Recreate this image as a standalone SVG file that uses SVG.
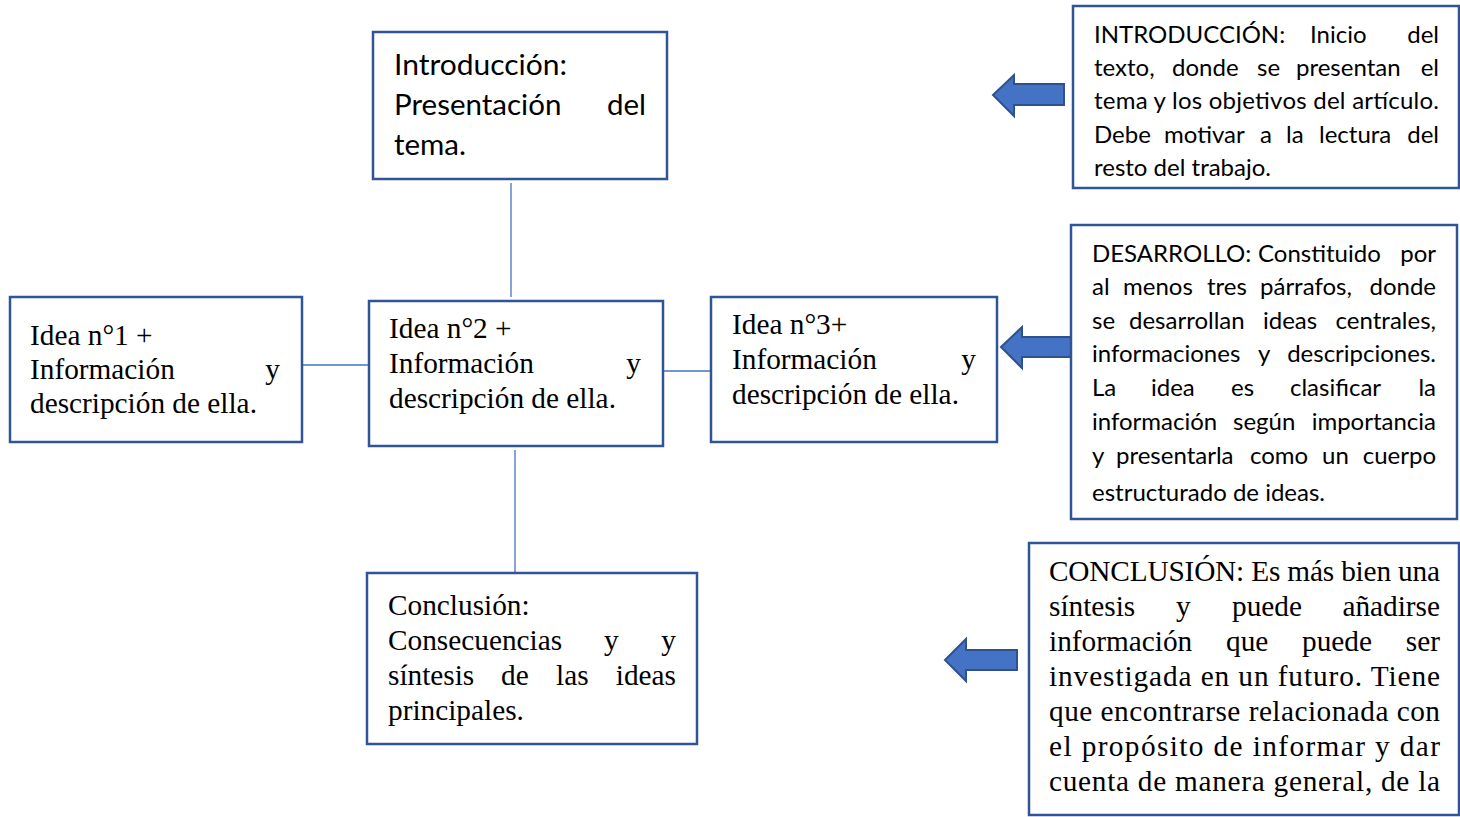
<svg xmlns="http://www.w3.org/2000/svg" width="1460" height="817" viewBox="0 0 1460 817">
<style>
.box{fill:#ffffff;stroke:#2F5597;stroke-width:2.5}
.conn{stroke:#4472C4;stroke-width:1.3;fill:none}
.arrow{fill:#4472C4;stroke:#2F528F;stroke-width:2;stroke-linejoin:miter}
.cal{font-family:Lato,"Open Sans","DejaVu Sans",sans-serif;fill:#000000}
.c23{font-size:24px}
.c29{font-size:29.5px}
.tnr{font-family:"Liberation Serif","Times New Roman",serif;font-size:29.3px;fill:#000000}
.end{text-anchor:end}
</style>
<rect width="1460" height="817" fill="#ffffff"/>

<g id="connectors">
<line class="conn" x1="511" y1="183" x2="511" y2="297"/>
<line class="conn" x1="302" y1="365" x2="369" y2="365"/>
<line class="conn" x1="663" y1="371" x2="711" y2="371"/>
<line class="conn" x1="515" y1="450" x2="515" y2="573"/>
<polygon class="arrow" points="993,95 1014,75 1014,84 1064,84 1064,105 1014,105 1014,116"/>
<polygon class="arrow" points="1001,347 1022,327 1022,337 1072,337 1072,357 1022,357 1022,368"/>
<polygon class="arrow" points="945,660 966,639 966,650 1017,650 1017,670 966,670 966,681"/>
</g>

<g id="intro">
<rect class="box" x="373" y="32" width="294" height="147"/>
<text class="cal c29" x="394" y="75" textLength="173" lengthAdjust="spacingAndGlyphs">Introducción:</text>
<text class="cal c29" x="394" y="115">Presentación</text>
<text class="cal c29 end" x="646" y="115">del</text>
<text class="cal c29" x="394" y="155">tema.</text>
</g>

<g id="idea1">
<rect class="box" x="10" y="297" width="292" height="145"/>
<text class="tnr" x="30" y="345">Idea n°1 +</text>
<text class="tnr" x="30" y="379">Información</text>
<text class="tnr end" x="280" y="379">y</text>
<text class="tnr" x="30" y="413">descripción de ella.</text>
</g>

<g id="idea2">
<rect class="box" x="369" y="301" width="294" height="145"/>
<text class="tnr" x="389" y="338">Idea n°2 +</text>
<text class="tnr" x="389" y="373">Información</text>
<text class="tnr end" x="641" y="373">y</text>
<text class="tnr" x="389" y="408">descripción de ella.</text>
</g>

<g id="idea3">
<rect class="box" x="711" y="297" width="286" height="145"/>
<text class="tnr" x="732" y="334">Idea n°3+</text>
<text class="tnr" x="732" y="369">Información</text>
<text class="tnr end" x="976" y="369">y</text>
<text class="tnr" x="732" y="404">descripción de ella.</text>
</g>

<g id="conclusion">
<rect class="box" x="367" y="573" width="330" height="171"/>
<text class="tnr" x="388" y="615">Conclusión:</text>
<text class="tnr" x="388" y="650">Consecuencias</text>
<text class="tnr" x="604" y="650">y</text>
<text class="tnr end" x="676" y="650">y</text>
<text class="tnr" x="388" y="685">síntesis</text>
<text class="tnr" x="501" y="685">de</text>
<text class="tnr" x="556" y="685">las</text>
<text class="tnr end" x="676" y="685">ideas</text>
<text class="tnr" x="388" y="720">principales.</text>
</g>

<g id="note-introduccion">
<rect class="box" x="1073" y="6" width="386" height="182"/>
<text class="cal c23" y="43"><tspan x="1094">INTRODUCCIÓN:</tspan><tspan x="1310">Inicio</tspan></text>
<text class="cal c23 end" x="1439" y="43">del</text>
<text class="cal c23" y="76"><tspan x="1094">texto,</tspan><tspan x="1172">donde</tspan><tspan x="1257">se</tspan><tspan x="1296">presentan</tspan></text>
<text class="cal c23 end" x="1439" y="76">el</text>
<text class="cal c23" x="1094" y="109" textLength="345" lengthAdjust="spacing">tema y los objetivos del artículo.</text>
<text class="cal c23" y="143"><tspan x="1094">Debe</tspan><tspan x="1164">motivar</tspan><tspan x="1260">a</tspan><tspan x="1286">la</tspan><tspan x="1319">lectura</tspan></text>
<text class="cal c23 end" x="1439" y="143">del</text>
<text class="cal c23" x="1094" y="176">resto del trabajo.</text>
</g>

<g id="note-desarrollo">
<rect class="box" x="1071" y="225" width="386" height="294"/>
<text class="cal c23" y="262"><tspan x="1092">DESARROLLO:</tspan><tspan x="1258">Constituido</tspan></text>
<text class="cal c23 end" x="1436" y="262">por</text>
<text class="cal c23" y="295"><tspan x="1092">al</tspan><tspan x="1123">menos</tspan><tspan x="1207">tres</tspan><tspan x="1260">párrafos,</tspan></text>
<text class="cal c23 end" x="1436" y="295">donde</text>
<text class="cal c23" y="329"><tspan x="1092">se</tspan><tspan x="1129">desarrollan</tspan><tspan x="1263">ideas</tspan></text>
<text class="cal c23 end" x="1436" y="329">centrales,</text>
<text class="cal c23" y="362"><tspan x="1092">informaciones</tspan><tspan x="1258">y</tspan></text>
<text class="cal c23 end" x="1436" y="362">descripciones.</text>
<text class="cal c23" y="396"><tspan x="1092">La</tspan><tspan x="1151">idea</tspan><tspan x="1231">es</tspan><tspan x="1290">clasificar</tspan></text>
<text class="cal c23 end" x="1436" y="396">la</text>
<text class="cal c23" y="430"><tspan x="1092">información</tspan><tspan x="1233">según</tspan></text>
<text class="cal c23 end" x="1436" y="430">importancia</text>
<text class="cal c23" y="464"><tspan x="1092">y</tspan><tspan x="1116">presentarla</tspan><tspan x="1250">como</tspan><tspan x="1322">un</tspan></text>
<text class="cal c23 end" x="1436" y="464">cuerpo</text>
<text class="cal c23" x="1092" y="501">estructurado de ideas.</text>
</g>

<g id="note-conclusion">
<rect class="box" x="1029" y="543" width="430" height="272"/>
<text class="tnr" x="1049" y="581" textLength="391" lengthAdjust="spacing">CONCLUSIÓN: Es más bien una</text>
<text class="tnr" y="616"><tspan x="1049">síntesis</tspan><tspan x="1176">y</tspan><tspan x="1232">puede</tspan></text>
<text class="tnr end" x="1440" y="616">añadirse</text>
<text class="tnr" y="651"><tspan x="1049">información</tspan><tspan x="1226">que</tspan><tspan x="1302">puede</tspan></text>
<text class="tnr end" x="1440" y="651">ser</text>
<text class="tnr" x="1049" y="686" textLength="391" lengthAdjust="spacing">investigada en un futuro. Tiene</text>
<text class="tnr" x="1049" y="721" textLength="391" lengthAdjust="spacing">que encontrarse relacionada con</text>
<text class="tnr" x="1049" y="756" textLength="391" lengthAdjust="spacing">el propósito de informar y dar</text>
<text class="tnr" x="1049" y="791" textLength="391" lengthAdjust="spacing">cuenta de manera general, de la</text>
</g>
</svg>
